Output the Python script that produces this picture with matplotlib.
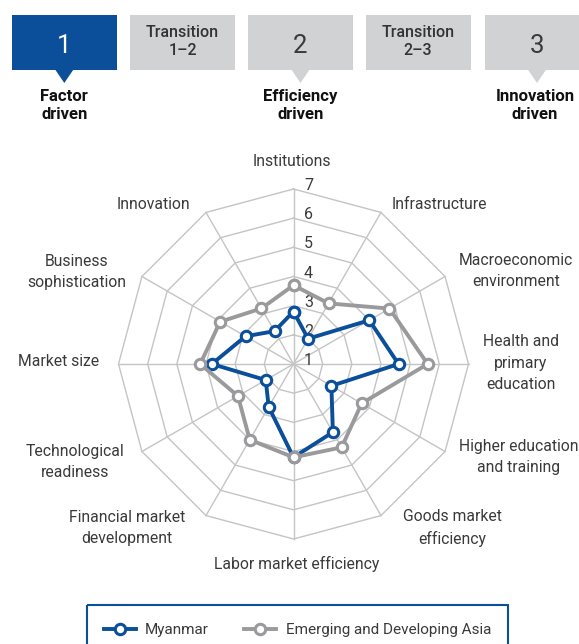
import matplotlib
matplotlib.use('Agg')
import matplotlib.pyplot as plt
import numpy as np
from matplotlib.patches import Rectangle, Polygon
from matplotlib import transforms

# ---------------- data ----------------
categories = ['Institutions', 'Infrastructure', 'Macroeconomic\nenvironment',
              'Health and\nprimary\neducation', 'Higher education\nand training',
              'Goods market\nefficiency', 'Labor market efficiency',
              'Financial market\ndevelopment', 'Technological\nreadiness',
              'Market size', 'Business\nsophistication', 'Innovation']
myanmar = [2.8, 2.0, 4.0, 4.6, 2.5, 3.7, 4.2, 2.7, 2.1, 3.8, 2.9, 2.3]
asia = [3.7, 3.4, 4.8, 5.6, 3.7, 4.3, 4.2, 4.0, 3.2, 4.2, 3.9, 3.2]
series_names = ['Myanmar', 'Emerging and Developing Asia']
radial_ticks = [1, 2, 3, 4, 5, 6, 7]
stage_labels = ['1', 'Transition\n1–2', '2', 'Transition\n2–3', '3']
stage_names = ['Factor\ndriven', 'Efficiency\ndriven', 'Innovation\ndriven']

# ---------------- style / layout ----------------
W, H = 579, 644
BLUE = '#0b4f9a'
GRAY = '#9a9a9c'
BOXGRAY = '#d1d2d4'
GRID = '#c4c4c4'
TXT = '#3a3a3a'
FONT = ['Roboto', 'DejaVu Sans']
plt.rcParams['font.family'] = FONT

fig = plt.figure(figsize=(W / 100, H / 100), dpi=100)
bg = fig.add_axes([0, 0, 1, 1])
bg.set_xlim(0, W)
bg.set_ylim(H, 0)
bg.axis('off')

# stage boxes
box_x = [11.8, 130, 248, 365.6, 484.5]
box_w, box_y, box_h = 105, 15, 54.5
pointer_boxes = [0, 2, 4]
for i, (x, lab) in enumerate(zip(box_x, stage_labels)):
    active = (i == 0)
    fc = BLUE if active else BOXGRAY
    bg.add_patch(Rectangle((x, box_y), box_w, box_h, facecolor=fc, edgecolor='none', clip_on=False))
    cx = x + box_w / 2
    if '\n' in lab:
        bg.text(cx, box_y + box_h / 2 - 0.5, lab, ha='center', va='center', fontsize=11.5,
                fontweight='medium', color='#333333', linespacing=1.25)
    else:
        bg.text(cx, 46, lab, ha='center', va='center', fontsize=18.5,
                color='white' if active else TXT)
for j, i in enumerate(pointer_boxes):
    cx = box_x[i] + box_w / 2
    fc = BLUE if i == 0 else BOXGRAY
    bg.add_patch(Polygon([[cx - 9.5, box_y + box_h - 0.5], [cx + 9.5, box_y + box_h - 0.5],
                          [cx, 83]], closed=True, facecolor=fc, edgecolor='none'))
    bg.text(min(cx, 535), 105.5, stage_names[j], ha='center', va='center', fontsize=12,
            fontweight='bold', color='#111111', linespacing=1.3)

# radar axes
cx0, cy0, R = 293.5, 364, 175
ax = fig.add_axes([(cx0 - R) / W, 1 - (cy0 + R) / H, 2 * R / W, 2 * R / H], projection='polar')
ax.patch.set_alpha(0)
ax.set_theta_zero_location('N')
ax.set_theta_direction(-1)
ax.set_ylim(radial_ticks[0], radial_ticks[-1])
ax.grid(False)
ax.spines['polar'].set_visible(False)
ax.set_xticks([])
ax.set_yticks([])

theta = np.linspace(0, 2 * np.pi, len(categories), endpoint=False)
tc = np.append(theta, theta[0])
for r in radial_ticks[1:]:
    ax.plot(tc, [r] * len(tc), color=GRID, lw=1, zorder=1, clip_on=False)
for t in theta:
    ax.plot([t, t], [radial_ticks[0], radial_ticks[-1]], color=GRID, lw=1, zorder=1, clip_on=False)

off = transforms.offset_copy(ax.transData, fig=fig, x=15, y=3.5, units='dots')
for v in radial_ticks:
    ax.text(0, v, str(v), transform=off, ha='center', va='center', fontsize=11.5,
            color=TXT, zorder=2)

l1, = ax.plot(tc, myanmar + myanmar[:1], color=BLUE, lw=2.8, marker='o', ms=7.5,
              mfc='white', mec=BLUE, mew=2.2, zorder=3, clip_on=False)
l2, = ax.plot(tc, asia + asia[:1], color=GRAY, lw=2.8, marker='o', ms=7.5,
              mfc='white', mec=GRAY, mew=2.2, zorder=4, clip_on=False)

# category labels (pixel positions)
label_pos = [(292, 161), (439, 204), (516, 271), (521, 363), (519, 457), (452, 528),
             (297, 564), (127, 528), (75, 462), (59, 361), (77, 272), (153, 204)]
for lab, (x, y) in zip(categories, label_pos):
    bg.text(x, y, lab, ha='center', va='center', fontsize=11.3,
            color=TXT, linespacing=1.55)

# legend
bg.add_patch(Rectangle((87, 605), 421, 60, fill=False, edgecolor=BLUE, lw=1.5, clip_on=False))
fig.legend([l1, l2], series_names, ncol=2, frameon=False, loc='center left',
           bbox_to_anchor=(104 / W, 1 - 630 / H), prop={'size': 11},
           handlelength=2.1, handletextpad=0.6, columnspacing=2.3, borderpad=0,
           borderaxespad=0, labelcolor=TXT)

fig.savefig('out.png', dpi=100)
